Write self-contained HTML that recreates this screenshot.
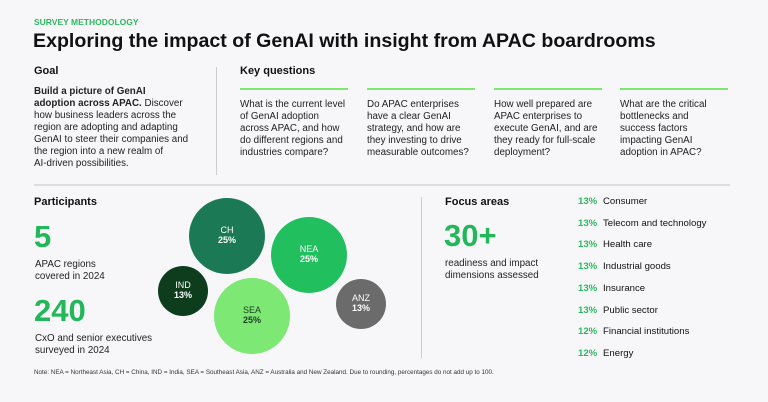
<!DOCTYPE html>
<html><head><meta charset="utf-8">
<style>
body{margin:0;background:#f7f7f9;}
#root{position:relative;width:768px;height:402px;overflow:hidden;background:#f7f7f9;font-family:"Liberation Sans",sans-serif;color:#111;}
.a{position:absolute;white-space:nowrap;}
.h{font-weight:bold;font-size:11px;}
.q{font-size:9.8px;line-height:12px;color:#222;}
.gl{position:absolute;height:2px;background:#7de874;top:88px;width:108px;}
.big{font-weight:bold;color:#22b85a;}
.fa{font-size:9.6px;}
.fa b{color:#2cba5e;display:inline-block;width:25px;}
</style></head><body>
<div id="root">
<div class="a" style="left:34px;top:17px;font-size:8.5px;font-weight:bold;color:#2cba5e;">SURVEY METHODOLOGY</div>
<div class="a" style="left:33px;top:30px;font-size:19.6px;font-weight:bold;">Exploring the impact of GenAI with insight from APAC boardrooms</div>

<div class="a h" style="left:34px;top:65px;">Goal</div>
<div class="a q" style="left:34px;top:86px;"><b>Build a picture of GenAI<br>adoption across APAC.</b> Discover<br>how business leaders across the<br>region are adopting and adapting<br>GenAI to steer their companies and<br>the region into a new realm of<br>AI-driven possibilities.</div>
<div class="a" style="left:216px;top:67px;width:1px;height:108px;background:#ccc;"></div>

<div class="a h" style="left:240px;top:65px;">Key questions</div>
<div class="gl" style="left:240px;"></div>
<div class="gl" style="left:367px;"></div>
<div class="gl" style="left:494px;"></div>
<div class="gl" style="left:620px;"></div>
<div class="a q" style="left:240px;top:99px;">What is the current level<br>of GenAI adoption<br>across APAC, and how<br>do different regions and<br>industries compare?</div>
<div class="a q" style="left:367px;top:99px;">Do APAC enterprises<br>have a clear GenAI<br>strategy, and how are<br>they investing to drive<br>measurable outcomes?</div>
<div class="a q" style="left:494px;top:99px;">How well prepared are<br>APAC enterprises to<br>execute GenAI, and are<br>they ready for full-scale<br>deployment?</div>
<div class="a q" style="left:620px;top:99px;">What are the critical<br>bottlenecks and<br>success factors<br>impacting GenAI<br>adoption in APAC?</div>
<div class="a" style="left:34px;top:184px;width:696px;height:2px;background:#ddd;"></div>

<div class="a h" style="left:34px;top:196px;">Participants</div>
<div class="a big" style="left:34px;top:220px;font-size:31px;line-height:34px;">5</div>
<div class="a q" style="left:35px;top:259px;">APAC regions<br>covered in 2024</div>
<div class="a big" style="left:34px;top:294px;font-size:31px;line-height:34px;">240</div>
<div class="a q" style="left:35px;top:333px;">CxO and senior executives<br>surveyed in 2024</div>

<svg class="a" id="bubbles" style="left:0;top:0;" width="430" height="370"></svg>
<div class="a" style="left:421px;top:197px;width:1px;height:161px;background:#ccc;"></div>

<div class="a h" style="left:445px;top:196px;">Focus areas</div>
<div class="a big" style="left:444px;top:219px;font-size:31px;line-height:34px;">30+</div>
<div class="a q" style="left:445px;top:258px;">readiness and impact<br>dimensions assessed</div>
<div id="focus"></div>

<div class="a" style="left:34px;top:369px;font-size:6.3px;color:#333;">Note: NEA = Northeast Asia, CH = China, IND = India, SEA = Southeast Asia, ANZ = Australia and New Zealand. Due to rounding, percentages do not add up to 100.</div>
</div>
<script>
const regions=["CH","NEA","IND","SEA","ANZ"];
const regionShares=[25,25,13,25,13];
const industries=["Consumer","Telecom and technology","Health care","Industrial goods","Insurance","Public sector","Financial institutions","Energy"];
const industryShares=[13,13,13,13,13,13,12,12];
// layout (not data): bubble centers and colours
const centers=[[227,236],[309,255],[183,291],[252,316],[361,304]];
const fills=["#1b7a55","#22bf5f","#0d3d1d","#7de874","#6b6b6b"];
const textCol=["#fff","#fff","#fff","#1a3d22","#fff"];
const rScale=v=>v>=20?38:25*Math.sqrt(v/13);
const svg=document.getElementById('bubbles');
const NS="http://www.w3.org/2000/svg";
regions.forEach((r,i)=>{
  const c=document.createElementNS(NS,'circle');
  
  
  c.setAttribute('cx',centers[i][0]);c.setAttribute('cy',centers[i][1]);
  c.setAttribute('r',rScale(regionShares[i]));c.setAttribute('fill',fills[i]);
  svg.appendChild(c);
  const t=document.createElementNS(NS,'text');
  
  
  t.setAttribute('x',centers[i][0]);t.setAttribute('y',centers[i][1]-3);
  t.setAttribute('text-anchor','middle');t.setAttribute('fill',textCol[i]);
  t.setAttribute('font-family','Liberation Sans, sans-serif');t.setAttribute('font-size','9');
  t.textContent=r;svg.appendChild(t);
  const p=document.createElementNS(NS,'text');
  
  
  p.setAttribute('x',centers[i][0]);p.setAttribute('y',centers[i][1]+7);
  p.setAttribute('text-anchor','middle');p.setAttribute('fill',textCol[i]);
  p.setAttribute('font-family','Liberation Sans, sans-serif');p.setAttribute('font-size','9');p.setAttribute('font-weight','bold');
  p.textContent=regionShares[i]+'%';svg.appendChild(p);
});
const focus=document.getElementById('focus');
industries.forEach((n,i)=>{
  const d=document.createElement('div');
  
  
  d.className='a fa';d.style.left='578px';d.style.top=(196+i*21.7)+'px';
  d.innerHTML='<b>'+industryShares[i]+'%</b>'+n;
  focus.appendChild(d);
});
</script>
</body></html>
